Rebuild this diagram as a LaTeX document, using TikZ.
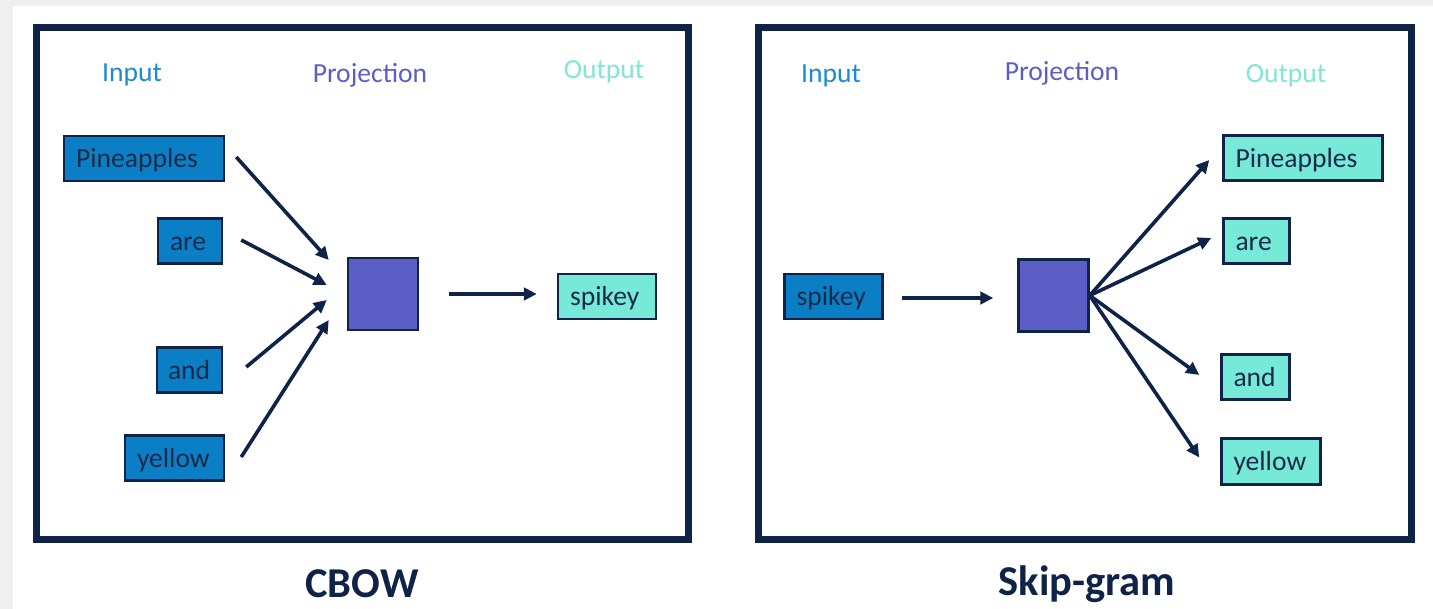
\documentclass[tikz,border=0pt]{standalone}
\usepackage{fontspec}
\setmainfont{Carlito}
\usetikzlibrary{arrows.meta,calc}
\definecolor{navy}{HTML}{0F2349}
\definecolor{inblue}{HTML}{0A7FC6}
\definecolor{inlabel}{HTML}{1B8BD2}
\definecolor{projpurple}{HTML}{5B5FC5}
\definecolor{outteal}{HTML}{77E9D8}
\definecolor{outlabel}{HTML}{7FE6D6}
\definecolor{wordtext}{HTML}{1A2A48}
\definecolor{bggray}{HTML}{EFEFEF}
\newcommand{\wordfont}{\fontsize{27.6}{32}\selectfont}
\newcommand{\capfont}{\fontsize{42.5}{48}\selectfont\bfseries}
\begin{document}
\begin{tikzpicture}[x=1pt,y=-1pt,
  word/.style={draw=navy, line width=2.5pt, minimum height=45pt, inner xsep=12pt, inner ysep=0pt,
               text height=19pt, text depth=0.5pt,
               text=wordtext, font=\wordfont, align=left},
  inword/.style={word, fill=inblue, text width=#1},
  outword/.style={word, fill=outteal, text width=#1},
  projbox/.style={draw=navy, line width=2.5pt, fill=projpurple, minimum width=70pt, minimum height=72pt, inner sep=0pt},
  conn/.style={draw=navy, line width=3.6pt, -{Triangle[length=13pt,width=12.5pt]}},
  frameline/.style={draw=navy, line width=7pt},
  lbl/.style={font=\wordfont, inner sep=0pt, yshift=-3pt},
  captext/.style={font=\capfont, text=navy, inner sep=0pt}]
\useasboundingbox (0,0) rectangle (1433,609);
\fill[bggray] (0,0) rectangle (1433,609);
\fill[white] (13,6) rectangle (1433,609);
% frames
\draw[frameline] (36.5,27.5) rectangle (688.5,539.5);
\draw[frameline] (758.5,27.5) rectangle (1411.5,539.5);
% ---- CBOW ----
\node[lbl, text=inlabel] (inL) at (132,72) {Input};
\node[lbl, text=projpurple] (prL) at (370,72) {Projection};
\node[lbl, text=outlabel] (ouL) at (604,69) {Output};
\node[inword=136pt] (pineL) at (144,158.5) {Pineapples};
\node[inword=40pt] (areL) at (190,241) {are};
\node[inword=43pt, inner xsep=11pt] (andL) at (189.5,370) {and};
\node[inword=75pt] (yellowL) at (174.5,458) {yellow};
\node[projbox] (projL) at (383,294) {};
\node[outword=74pt] (spikeyL) at (607,296.5) {spikey};
\draw[conn] ($(pineL.east)+(11,-1.5)$) -- ($(projL.west)+(-18,-34)$);
\draw[conn] ($(areL.east)+(18,-1)$) -- ($(projL.west)+(-20,-9)$);
\draw[conn] ($(andL.east)+(23,-3)$) -- ($(projL.west)+(-20,6)$);
\draw[conn] ($(yellowL.east)+(16,-1)$) -- ($(projL.west)+(-18,26)$);
\draw[conn] ($(projL.east)+(30,0)$) -- ($(spikeyL.west)+(-20,-2.5)$);
\node[captext] (cbow) at (362,584) {CBOW};
% ---- Skip-gram ----
\node[lbl, text=inlabel] (inR) at (831,73) {Input};
\node[lbl, text=projpurple] (prR) at (1062,70) {Projection};
\node[lbl, text=outlabel] (ouR) at (1286,73) {Output};
\node[inword=74pt] (spikeyR) at (833.5,296.5) {spikey};
\node[projbox] (projR) at (1053.5,295.5) {};
\node[outword=135pt] (pineR) at (1303,158) {Pineapples};
\node[outword=42pt] (areR) at (1256.5,241) {are};
\node[outword=44pt] (andR) at (1255.5,377) {and};
\node[outword=75pt, minimum height=46pt] (yellowR) at (1271,461.5) {yellow};
\draw[conn] ($(spikeyR.east)+(18,1.5)$) -- ($(projR.west)+(-24,2.5)$);
\draw[conn] (projR.east) -- ($(pineR.west)+(-13,2)$);
\draw[conn] (projR.east) -- ($(areR.west)+(-11,-3)$);
\draw[conn] (projR.east) -- ($(andR.west)+(-21,-2)$);
\draw[conn] (projR.east) -- ($(yellowR.west)+(-21,-4)$);
\node[captext] (skip) at (1087,584) {Skip-gram};
\end{tikzpicture}
\end{document}
